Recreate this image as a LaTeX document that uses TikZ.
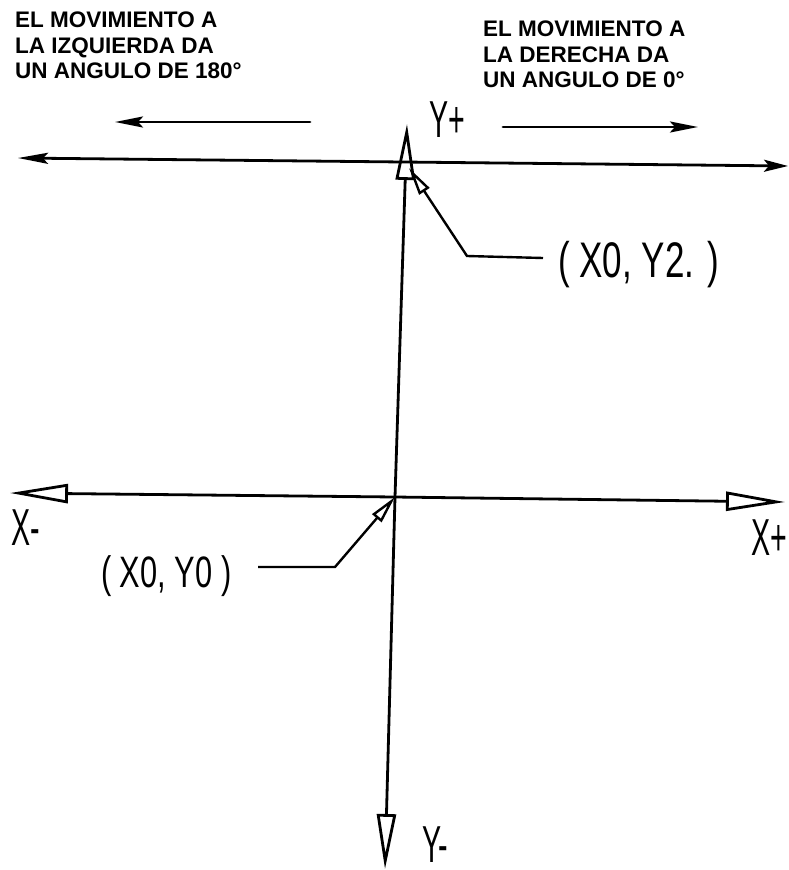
\documentclass[tikz,border=0pt]{standalone}
\usepackage{fontspec}
\setmainfont{Liberation Sans}
\newfontfamily\techfont[FakeStretch=0.7]{Liberation Sans}
\newfontfamily\axisfont[FakeStretch=0.55]{Liberation Sans}
\usetikzlibrary{arrows.meta}
\tikzset{
  axisline/.style={line width=2.8pt, line cap=round},
  leaderline/.style={line width=2.4pt, line join=miter},
  openhead/.style={-{Triangle[open,length=#1pt,width=19pt]}},
  leaderhead/.style={-{Triangle[open,length=28pt,width=12pt]}},
  solidhead/.style={-{Stealth[length=28pt,width=11pt,inset=5pt]}},
  heading/.style={inner sep=0pt, anchor=north west, align=left,
    font=\bfseries\fontsize{22.5}{25.5}\selectfont},
  axislabel/.style={inner sep=0pt, anchor=base west,
    font=\axisfont\fontsize{52}{52}\selectfont},
  pointlabel/.style={inner sep=0pt, anchor=base west,
    font=\techfont\fontsize{#1}{#1}\selectfont}
}
\begin{document}
\begin{tikzpicture}[x=1pt,y=-1pt]
\useasboundingbox (0,0) rectangle (788,870);

% key points
\coordinate (O)   at (395,497);
\coordinate (Ytop) at (407,124);
\coordinate (Ybot) at (385,869);
\coordinate (Xl)  at (10,493);
\coordinate (Xr)  at (785,502);
\coordinate (Tl)  at (18,158);
\coordinate (Tr)  at (788,166);
\coordinate (Lt)  at (310,122);
\coordinate (Lh)  at (115,122);
\coordinate (Rt)  at (503,127);
\coordinate (Rh)  at (698,127);
\coordinate (a0) at (258,567);
\coordinate (b0) at (335,567);
\coordinate (a2) at (543,258);
\coordinate (b2) at (467,256);
\coordinate (c2) at (409,168);

% headings
\node[heading] (hl) at (15,12) {EL MOVIMIENTO A\\LA IZQUIERDA DA\\UN ANGULO DE 180°};
\node[heading] (hr) at (483,21) {EL MOVIMIENTO A\\LA DERECHA DA\\UN ANGULO DE 0°};

% direction arrows
\draw[axisline, solidhead] (Lt) -- (Lh);
\draw[axisline, solidhead] (Rt) -- (Rh);

% upper horizontal line
\draw[axisline, {Stealth[length=30pt,width=11pt,inset=5pt]}-{Stealth[length=24pt,width=12pt,inset=5pt]}] (Tl) -- (Tr);

% Y axis
\draw[axisline, openhead=56] (O) -- (Ytop);
\draw[axisline, openhead=55] (O) -- (Ybot);

% X axis
\draw[axisline, openhead=58] (O) -- (Xl);
\draw[axisline, openhead=59] (O) -- (Xr);

% leaders
\draw[leaderline, leaderhead] (a0) -- (b0) -- (O);
\draw[leaderline, leaderhead] (a2) -- (b2) -- (c2);

% labels
\node[axislabel] (yp) at (429,137) {Y+};
\node[axislabel] (ym) at (422,862) {Y-};
\node[axislabel] (xm) at (11,545) {X-};
\node[axislabel] (xp) at (751,555) {X+};
\node[pointlabel=44] (p0) at (101,587) {( X0, Y0 )};
\node[pointlabel=50] (p2) at (558,277) {( X0, Y2. )};
\end{tikzpicture}
\end{document}
